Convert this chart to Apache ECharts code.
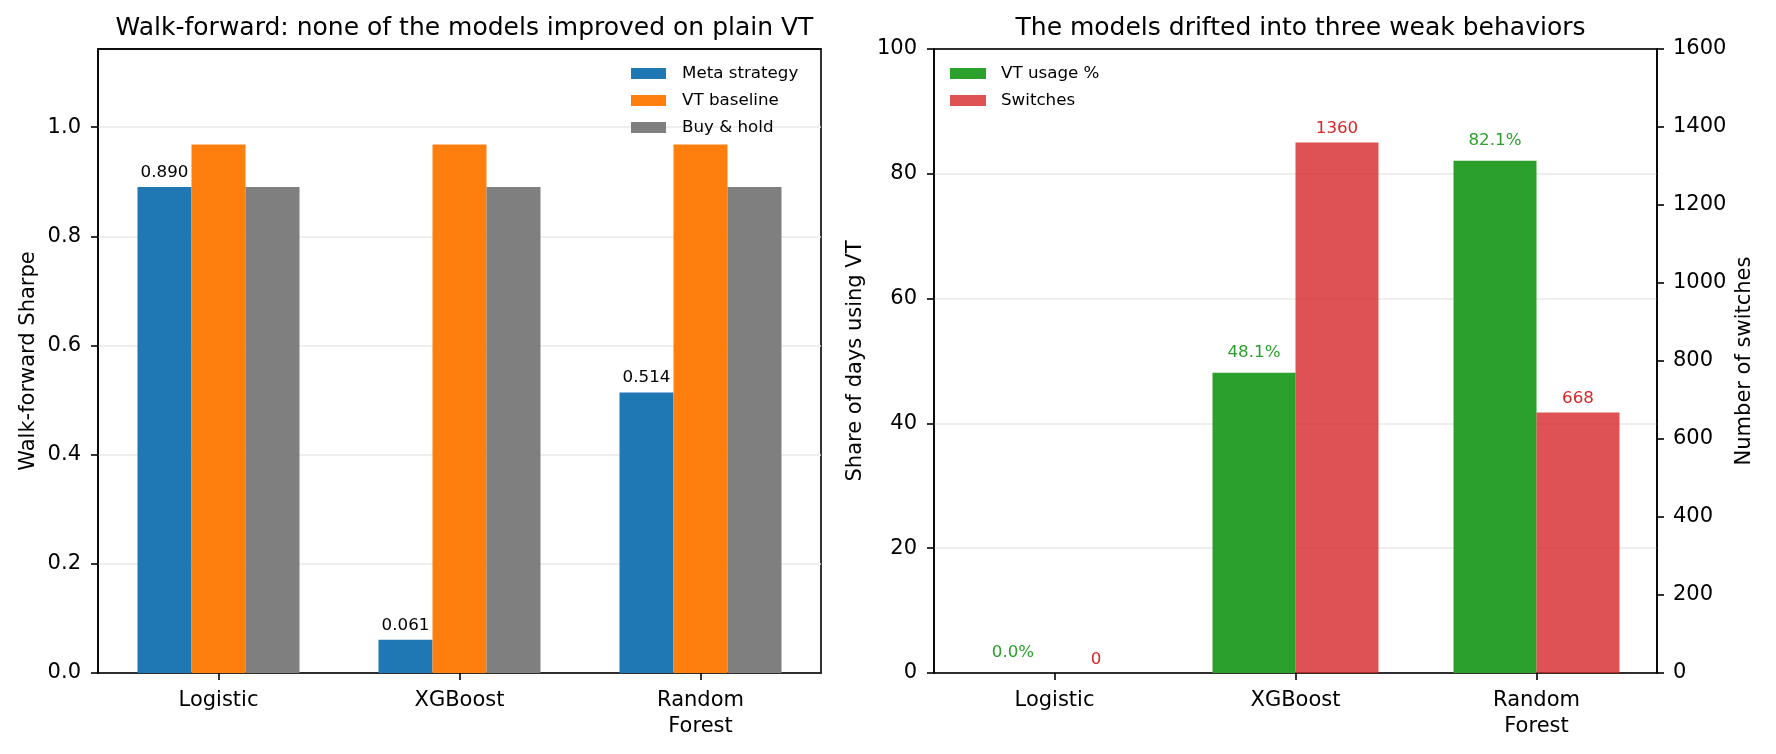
<!DOCTYPE html>
<html>
<head>
<meta charset="utf-8">
<script src="https://cdn.jsdelivr.net/npm/echarts@6/dist/echarts.min.js"></script>
<style>
    html, body { margin: 0; padding: 0; background: #ffffff; }
    #chart { width: 1776px; height: 754px; }
</style>
</head>
<body>
<div id="chart"></div>
<script>
    // data
    const models = ['Logistic', 'XGBoost', 'Random\nForest']
    const metaSharpe = [0.890, 0.061, 0.514]
    const vtSharpe = [0.968, 0.968, 0.968]
    const holdSharpe = [0.890, 0.890, 0.890]
    const vtUsage = [0.0, 48.1, 82.1]
    const switches = [0, 1360, 668]
    const sharpeTicks = [0, 0.2, 0.4, 0.6, 0.8, 1.0]
    const usageTicks = [0, 20, 40, 60, 80, 100]
    const switchTicks = [0, 200, 400, 600, 800, 1000, 1200, 1400, 1600]

    const font = 'DejaVu Sans'
    const black = '#000000'
    const gridColor = '#e8e8e8'

    const axisLine = { show: true, lineStyle: { color: black, width: 1.6 } }
    const axisTick = { show: true, inside: false, length: 7, lineStyle: { color: black, width: 1.6 } }
    const tickLabel = { color: black, fontFamily: font, fontSize: 21, margin: 17 }
    const nameStyle = { color: black, fontFamily: font, fontSize: 21 }

    const catAxis = (gridIndex) => ({
        type: 'category',
        gridIndex: gridIndex,
        data: models,
        axisLine: axisLine,
        axisTick: Object.assign({ alignWithLabel: true }, axisTick),
        axisLabel: { color: black, fontFamily: font, fontSize: 21, margin: 15, lineHeight: 26 },
        splitLine: { show: false }
    })
    // top spine, drawn over the split line that sits on the max
    const topSpine = (gridIndex) => ({
        type: 'category',
        gridIndex: gridIndex,
        position: 'top',
        z: 5,
        data: models,
        axisLine: { show: true, onZero: false, lineStyle: { color: black, width: 1.6 } },
        axisTick: { show: false },
        axisLabel: { show: false },
        splitLine: { show: false }
    })

    const barLabel = (color, fmt, dist) => ({
        show: true,
        position: 'top',
        distance: dist,
        color: color,
        fontFamily: font,
        fontSize: 16.7,
        formatter: fmt
    })

    const chart = echarts.init(document.getElementById('chart'))
    chart.setOption({
        animation: false,
        backgroundColor: '#ffffff',
        title: [
            {
                text: 'Walk-forward: none of the models improved on plain VT',
                left: 459.5, top: 11, textAlign: 'center',
                textStyle: { color: black, fontFamily: font, fontSize: 25, fontWeight: 'normal' }
            },
            {
                text: 'The models drifted into three weak behaviors',
                left: 1295.5, top: 11, textAlign: 'center',
                textStyle: { color: black, fontFamily: font, fontSize: 25, fontWeight: 'normal' }
            }
        ],
        legend: [
            {
                data: ['Meta strategy', 'VT baseline', 'Buy & hold'],
                orient: 'vertical',
                left: 631, top: 65, padding: 0,
                itemWidth: 35, itemHeight: 11,
                itemGap: 10,
                icon: 'rect',
                textStyle: { color: black, fontFamily: font, fontSize: 16.7, lineHeight: 17, padding: [0, 0, 0, 11] }
            },
            {
                data: ['VT usage %', 'Switches'],
                orient: 'vertical',
                left: 950, top: 65, padding: 0,
                itemWidth: 36, itemHeight: 11,
                itemGap: 10,
                icon: 'rect',
                textStyle: { color: black, fontFamily: font, fontSize: 16.7, lineHeight: 17, padding: [0, 0, 0, 10] }
            }
        ],
        grid: [
            { left: 98, top: 49, width: 723, height: 624, show: true, borderColor: black, borderWidth: 1.6, backgroundColor: 'transparent' },
            { left: 934, top: 49, width: 723, height: 624, show: true, borderColor: black, borderWidth: 1.6, backgroundColor: 'transparent' }
        ],
        xAxis: [catAxis(0), catAxis(1), topSpine(0), topSpine(1)],
        yAxis: [
            {
                type: 'value', gridIndex: 0,
                min: 0, max: 1.143, interval: 0.2,
                name: 'Walk-forward Sharpe', nameLocation: 'middle', nameGap: 59, nameTextStyle: nameStyle,
                axisLine: axisLine,
                axisTick: Object.assign({ customValues: sharpeTicks }, axisTick),
                axisLabel: Object.assign({ customValues: sharpeTicks, formatter: v => v.toFixed(1) }, tickLabel),
                splitLine: { show: true, lineStyle: { color: gridColor, width: 1.5 } }
            },
            {
                type: 'value', gridIndex: 1, position: 'left',
                min: usageTicks[0], max: usageTicks[usageTicks.length - 1], interval: 20,
                name: 'Share of days using VT', nameLocation: 'middle', nameGap: 68, nameTextStyle: nameStyle,
                axisLine: axisLine,
                axisTick: axisTick,
                axisLabel: Object.assign({}, tickLabel, { formatter: v => String(v) }),
                splitLine: { show: true, lineStyle: { color: gridColor, width: 1.5 } }
            },
            {
                type: 'value', gridIndex: 1, position: 'right',
                min: switchTicks[0], max: switchTicks[switchTicks.length - 1], interval: 200,
                name: 'Number of switches', nameLocation: 'middle', nameGap: 77, nameTextStyle: nameStyle,
                axisLine: axisLine,
                axisTick: axisTick,
                axisLabel: Object.assign({}, tickLabel, { margin: 16, formatter: v => String(v) }),
                splitLine: { show: false }
            }
        ],
        series: [
            {
                name: 'Meta strategy', type: 'bar', xAxisIndex: 0, yAxisIndex: 0,
                data: metaSharpe, barWidth: 54, barGap: '0%',
                itemStyle: { color: '#1f77b4' },
                label: barLabel(black, p => p.value.toFixed(3), 6)
            },
            {
                name: 'VT baseline', type: 'bar', xAxisIndex: 0, yAxisIndex: 0,
                data: vtSharpe, barWidth: 54, barGap: '0%',
                itemStyle: { color: '#ff7f0e' }
            },
            {
                name: 'Buy & hold', type: 'bar', xAxisIndex: 0, yAxisIndex: 0,
                data: holdSharpe, barWidth: 54, barGap: '0%',
                itemStyle: { color: '#7f7f7f' }
            },
            {
                name: 'VT usage %', type: 'bar', xAxisIndex: 1, yAxisIndex: 1,
                data: vtUsage, barWidth: 83, barGap: '0%',
                itemStyle: { color: '#2ca02c' },
                label: barLabel('#2ca02c', p => p.value.toFixed(1) + '%', 12)
            },
            {
                name: 'Switches', type: 'bar', xAxisIndex: 1, yAxisIndex: 2,
                data: switches, barWidth: 83, barGap: '0%',
                itemStyle: { color: 'rgba(214,39,40,0.8)' },
                label: barLabel('#d62728', p => String(p.value), 5)
            }
        ]
    })
</script>
</body>
</html>
